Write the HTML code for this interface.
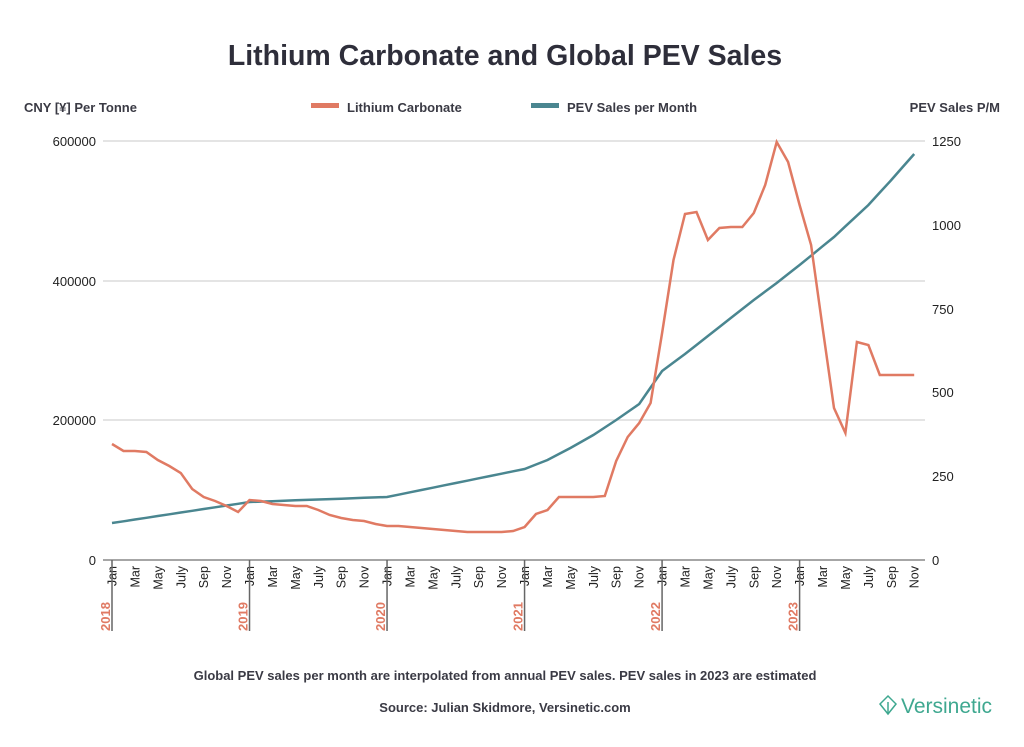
<!DOCTYPE html>
<html><head><meta charset="utf-8"><style>
body{margin:0;background:#fff;width:1024px;height:742px;overflow:hidden;font-family:"Liberation Sans",sans-serif}
</style></head><body>
<svg id="s" width="1024" height="742" xmlns="http://www.w3.org/2000/svg" font-family="Liberation Sans, sans-serif">
<text x="505" y="65" text-anchor="middle" font-size="28.5" font-weight="bold" fill="#2e2e3a">Lithium Carbonate and Global PEV Sales</text>
<text x="24" y="112" font-size="13" font-weight="bold" fill="#3a3a44">CNY [¥] Per Tonne</text>
<text x="1000" y="112" text-anchor="end" font-size="13" font-weight="bold" fill="#3a3a44">PEV Sales P/M</text>
<rect x="311" y="103" width="28" height="5" fill="#e07a63"/>
<text x="347" y="112" font-size="13" font-weight="bold" fill="#3a3a44">Lithium Carbonate</text>
<rect x="531" y="103" width="28" height="5" fill="#4a8690"/>
<text x="567" y="112" font-size="13" font-weight="bold" fill="#3a3a44">PEV Sales per Month</text>
<g stroke="#dcdcdc" stroke-width="1.5">
<line x1="103" y1="141" x2="925" y2="141"/><line x1="103" y1="281" x2="925" y2="281"/><line x1="103" y1="420" x2="925" y2="420"/>
</g>
<line x1="103" y1="560" x2="925" y2="560" stroke="#888" stroke-width="1.5"/>
<g font-size="13" fill="#222" text-anchor="end">
<text x="96" y="146">600000</text><text x="96" y="286">400000</text><text x="96" y="425">200000</text><text x="96" y="565">0</text>
</g>
<g font-size="13" fill="#222">
<text x="932" y="146">1250</text><text x="932" y="230">1000</text><text x="932" y="314">750</text><text x="932" y="397">500</text><text x="932" y="481">250</text><text x="932" y="565">0</text>
</g>
<g id="ax"></g>
<polyline id="pev" fill="none" stroke="#4a8690" stroke-width="2.5"/>
<polyline id="li" fill="none" stroke="#e07a63" stroke-width="2.5"/>
<text x="505" y="680" text-anchor="middle" font-size="13" font-weight="bold" fill="#3a3a44">Global PEV sales per month are interpolated from annual PEV sales. PEV sales in 2023 are estimated</text>
<text x="505" y="712" text-anchor="middle" font-size="13" font-weight="bold" fill="#3a3a44">Source: Julian Skidmore, Versinetic.com</text>
<g transform="translate(888,706)" fill="none" stroke="#3fa890" stroke-width="1.5"><path d="M0,-10 L8,-2 L0,8 L-8,-2 Z"/><path d="M0,-4 L0,8"/></g>
<text x="901" y="713" font-size="21" fill="#3fa890">Versinetic</text>
</svg>
<script>
var li=[444,451,451,452,460,466,473,489,497,501,506,512,500,501,504,505,506,506,510,515,518,520,521,524,526,526,527,528,529,530,531,532,532,532,532,531,527,514,510,497,497,497,497,496,461,437,423,403,333,260,214,212,240,228,227,227,213,185,142,162,205,245,327,408,433,342,345,375,375,375,375];
var key={0:523,12:502,24:497,36:469,38:460,40:448,42:435,44:420,46:404,48:371,50:354,52:336,54:318,56:300,58:283,60:265,63:237,66:205,68:180,70:154};
var ks=Object.keys(key).map(Number);
function X(i){return 112+11.46*i}
var p=[],q=[];
for(var i=0;i<71;i++){p.push(X(i).toFixed(1)+','+li[i]);
 var a,b;for(var k=0;k<ks.length-1;k++){if(i>=ks[k]&&i<=ks[k+1]){a=ks[k];b=ks[k+1];break;}}
 var y=key[a]+(key[b]-key[a])*(i-a)/(b-a);q.push(X(i).toFixed(1)+','+y.toFixed(1));}
document.getElementById('li').setAttribute('points',p.join(' '));
document.getElementById('pev').setAttribute('points',q.join(' '));
var m=['Jan','Mar','May','July','Sep','Nov'],g='';
for(var i=0;i<71;i+=2){var x=X(i);
 g+='<text transform="translate('+(x+4.5)+',566) rotate(-90)" text-anchor="end" font-size="12.5" fill="#222">'+m[(i%12)/2]+'</text>';
 if(i%12==0){g+='<line x1="'+x+'" y1="560" x2="'+x+'" y2="631" stroke="#666" stroke-width="1.5"/>';
 g+='<text transform="translate('+(x-2)+',631) rotate(-90)" font-size="13" font-weight="bold" fill="#e07a63">'+(2018+i/12)+'</text>';}}
document.getElementById('ax').innerHTML=g;
</script>
</body></html>
